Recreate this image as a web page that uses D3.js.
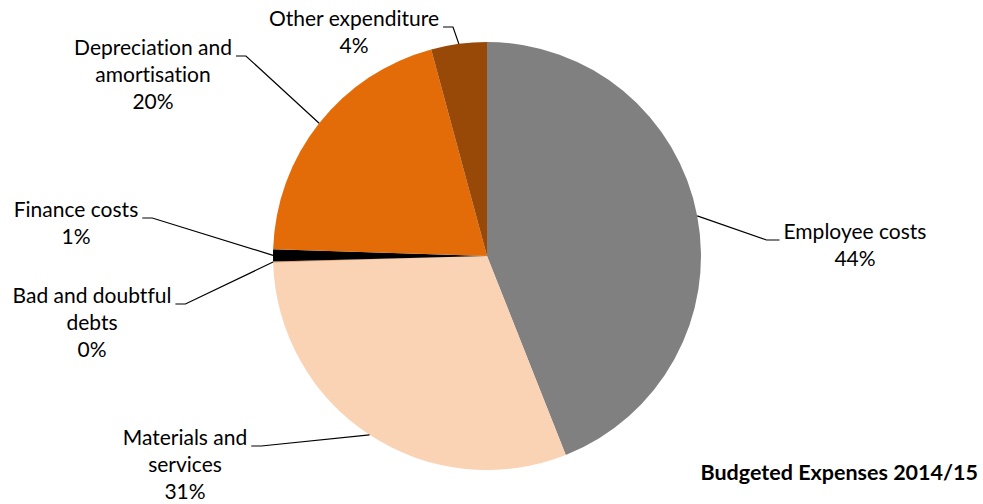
<!DOCTYPE html>
<html>
<head>
<meta charset="utf-8">
<script src="https://cdn.jsdelivr.net/npm/d3@7"></script>
<style>
  html, body { margin: 0; padding: 0; background: #fff; }
  svg text { font-family: Lato, "Open Sans", sans-serif; fill: #000; font-variant-ligatures: none; font-feature-settings: "liga" 0, "dlig" 0; }
</style>
</head>
<body>
<svg id="chart" width="983" height="504"></svg>
<script>
// Budgeted expenses by category, percent of total
const categories = ["Employee costs", "Materials and services", "Bad and doubtful debts",
                    "Finance costs", "Depreciation and amortisation", "Other expenditure"];
const values = [44.0, 30.5, 0.1, 0.9, 20.3, 4.2];
const labelLines = [
  ["Employee costs"],
  ["Materials and", "services"],
  ["Bad and doubtful", "debts"],
  ["Finance costs"],
  ["Depreciation and", "amortisation"],
  ["Other expenditure"]
];
const colors = ["#808080", "#FAD3B5", "#F2A56A", "#000000", "#E36C09", "#984807"];
const title = "Budgeted Expenses 2014/15";

// label placement: centre x, first baseline y, side of the text the leader leaves from
const labelPos = [
  { x: 855, y: 239, side: "left" },
  { x: 185, y: 445, side: "right" },
  { x: 92,  y: 303, side: "right" },
  { x: 76,  y: 217, side: "right" },
  { x: 153, y: 55,  side: "right" },
  { x: 354, y: 26,  side: "right" }
];

const svg = d3.select("#chart");
const cx = 487, cy = 256, r = 214;
const fontSize = 21, lineH = 27;

const pie = d3.pie().sort(null).value(d => d)(values);
const arc = d3.arc().innerRadius(0).outerRadius(r);

const g = svg.append("g").attr("transform", `translate(${cx},${cy})`);
g.selectAll("path.slice")
  .data(pie)
  .join("path")
  .attr("class", "slice")
  .attr("d", arc)
  .attr("fill", (d, i) => colors[i]);

// labels with leader lines
const labels = svg.append("g");
pie.forEach((d, i) => {
  const p = labelPos[i];
  const lines = labelLines[i].concat([Math.round(values[i]) + "%"]);
  const t = labels.append("text")
    .attr("text-anchor", "middle")
    .attr("font-size", fontSize);
  lines.forEach((s, k) => {
    t.append("tspan").attr("x", p.x).attr("y", p.y + k * lineH).text(s);
  });
  const w = t.select("tspan").node().getComputedTextLength();
  const mid = (d.startAngle + d.endAngle) / 2;
  const ex = cx + r * Math.sin(mid), ey = cy - r * Math.cos(mid);
  const ly = p.y + 1;
  let sx, hx;
  if (p.side === "right") { sx = p.x + w / 2 + 4; hx = sx + 10; }
  else { sx = p.x - w / 2 - 4; hx = sx - 13; }
  labels.append("path")
    .attr("d", d3.line()([[sx, ly], [hx, ly], [ex, ey]]))
    .attr("fill", "none")
    .attr("stroke", "#000")
    .attr("stroke-width", 1.2);
});

svg.append("text")
  .attr("x", 978).attr("y", 480)
  .attr("text-anchor", "end")
  .attr("font-size", 21.5)
  .attr("font-weight", "bold")
  .text(title);
</script>
</body>
</html>
